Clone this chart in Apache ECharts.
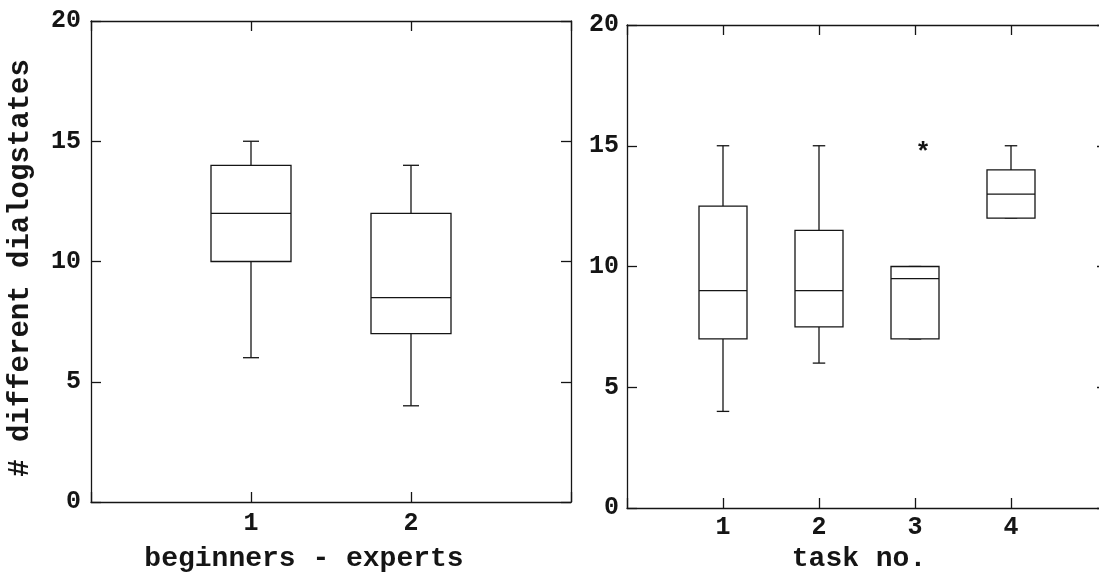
<!DOCTYPE html>
<html>
<head>
<meta charset="utf-8">
<title>dialogstates boxplots</title>
<script src="https://cdn.jsdelivr.net/npm/echarts@6/dist/echarts.min.js"></script>
<style>
  html, body { margin: 0; padding: 0; background: #fff; }
  #chart { width: 1099px; height: 575px; }
</style>
</head>
<body>
<div id="chart"></div>
<script>
// [min, q1, median, q3, max]
const groupCats = [1, 2];
const groupStats = [
  [6, 10, 12, 14, 15],
  [4, 7, 8.5, 12, 14]
];
const taskCats = [1, 2, 3, 4];
const taskStats = [
  [4, 7, 9, 12.5, 15],
  [6, 7.5, 9, 11.5, 15],
  [7, 7, 9.5, 10, 10],
  [12, 12, 13, 14, 15]
];
const taskOutliers = [[3, 15]];
const yTicks = [0, 5, 10, 15, 20];

const ink = '#151515';
const mono = '"Liberation Mono", "DejaVu Sans Mono", monospace';

const boxRender = (boxW, capW) => (params, api) => {
  const x = api.value(0);
  const lo = api.coord([x, api.value(1)]);
  const q1 = api.coord([x, api.value(2)]);
  const med = api.coord([x, api.value(3)]);
  const q3 = api.coord([x, api.value(4)]);
  const hi = api.coord([x, api.value(5)]);
  const half = api.size([boxW, 0])[0] / 2;
  const cap = api.size([capW, 0])[0] / 2;
  const line = { stroke: ink, lineWidth: 1.3 };
  const cx = q1[0];
  return {
    type: 'group',
    children: [
      { type: 'line', shape: { x1: cx, y1: q3[1], x2: cx, y2: hi[1] }, style: line },
      { type: 'line', shape: { x1: cx, y1: q1[1], x2: cx, y2: lo[1] }, style: line },
      { type: 'line', shape: { x1: cx - cap, y1: hi[1], x2: cx + cap, y2: hi[1] }, style: line },
      { type: 'line', shape: { x1: cx - cap, y1: lo[1], x2: cx + cap, y2: lo[1] }, style: line },
      {
        type: 'rect',
        shape: { x: cx - half, y: q3[1], width: half * 2, height: q1[1] - q3[1] },
        style: { fill: '#fff', stroke: ink, lineWidth: 1.3 }
      },
      { type: 'line', shape: { x1: cx - half, y1: med[1], x2: cx + half, y2: med[1] }, style: line }
    ]
  };
};

const starRender = (params, api) => {
  const p = api.coord([api.value(0), api.value(1)]);
  return {
    type: 'text',
    x: p[0] + 8,
    y: p[1] + 8,
    style: {
      text: '*',
      fill: ink,
      font: 'bold 26px ' + mono,
      align: 'center',
      verticalAlign: 'middle'
    }
  };
};

const frameLine = { show: true, onZero: false, lineStyle: { color: ink, width: 1.3 } };
const tick = { show: true, inside: true, length: 10, lineStyle: { color: ink, width: 1.3 } };
const labelFont = { color: ink, fontFamily: mono, fontWeight: 'bold', fontSize: 25 };

const makeX = (gridIndex, max, cats, position, margin) => ({
  type: 'value',
  gridIndex,
  position,
  min: 0,
  max,
  interval: 1,
  axisLine: frameLine,
  axisTick: tick,
  splitLine: { show: false },
  axisLabel: position === 'bottom'
    ? { ...labelFont, margin, formatter: (v) => (cats.includes(v) ? String(v) : '') }
    : { show: false }
});

const makeY = (gridIndex, position, margin) => ({
  type: 'value',
  gridIndex,
  position,
  min: yTicks[0],
  max: yTicks[yTicks.length - 1],
  interval: 5,
  axisLine: frameLine,
  axisTick: tick,
  splitLine: { show: false },
  axisLabel: position === 'left' ? { ...labelFont, margin } : { show: false }
});

const chart = echarts.init(document.getElementById('chart'));
chart.setOption({
  backgroundColor: '#fff',
  animation: false,
  grid: [
    { left: 91, top: 21, width: 480, height: 481, outerBoundsMode: 'none' },
    { left: 627, top: 25, width: 480, height: 483, outerBoundsMode: 'none' }
  ],
  xAxis: [
    makeX(0, 3, groupCats, 'bottom', 9),
    makeX(0, 3, groupCats, 'top'),
    makeX(1, 5, taskCats, 'bottom', 7),
    makeX(1, 5, taskCats, 'top')
  ],
  yAxis: [
    makeY(0, 'left', 10),
    makeY(0, 'right'),
    makeY(1, 'left', 8),
    makeY(1, 'right')
  ],
  series: [
    {
      type: 'custom',
      xAxisIndex: 0,
      yAxisIndex: 0,
      renderItem: boxRender(0.5, 0.1),
      encode: { x: 0, y: [1, 2, 3, 4, 5] },
      data: groupCats.map((c, i) => [c, ...groupStats[i]])
    },
    {
      type: 'custom',
      xAxisIndex: 2,
      yAxisIndex: 2,
      renderItem: boxRender(0.5, 0.13),
      encode: { x: 0, y: [1, 2, 3, 4, 5] },
      data: taskCats.map((c, i) => [c, ...taskStats[i]])
    },
    {
      type: 'custom',
      xAxisIndex: 2,
      yAxisIndex: 2,
      renderItem: starRender,
      encode: { x: 0, y: 1 },
      data: taskOutliers
    }
  ],
  graphic: [
    {
      type: 'text',
      x: 304,
      y: 559,
      style: { text: 'beginners - experts', fill: ink, font: 'bold 28px ' + mono, align: 'center', verticalAlign: 'middle' }
    },
    {
      type: 'text',
      x: 859,
      y: 559,
      style: { text: 'task no.', fill: ink, font: 'bold 28px ' + mono, align: 'center', verticalAlign: 'middle' }
    },
    {
      type: 'text',
      x: 21,
      y: 268,
      rotation: Math.PI / 2,
      style: { text: '# different dialogstates', fill: ink, font: 'bold 29px ' + mono, align: 'center', verticalAlign: 'middle' }
    }
  ]
});
</script>
</body>
</html>
